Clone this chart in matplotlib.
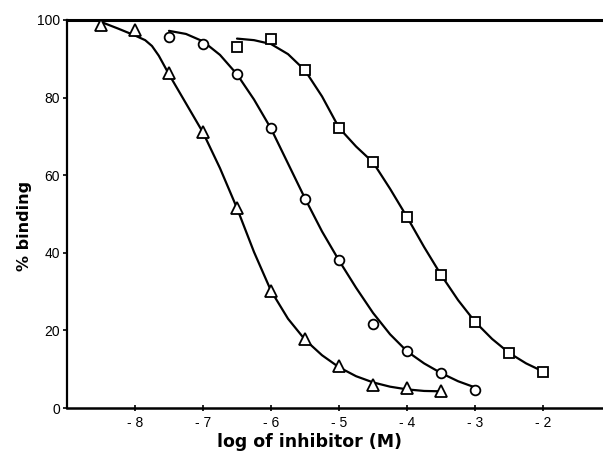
import matplotlib
matplotlib.use("Agg")
import matplotlib.pyplot as plt

plt.rcParams["font.family"] = "Liberation Sans"

# measured points (log M, % binding)
tri_x = [-8.5, -8.0, -7.5, -7.0, -6.5, -6.0, -5.5, -5.0, -4.5, -4.0, -3.5]
tri_y = [98.7, 97.5, 86.3, 71.1, 51.6, 30.2, 17.9, 10.7, 5.9, 5.2, 4.5]

circ_x = [-7.5, -7.0, -6.5, -6.0, -5.5, -5.0, -4.5, -4.0, -3.5, -3.0]
circ_y = [95.6, 93.7, 86.2, 72.2, 53.9, 38.1, 21.6, 14.6, 9.0, 4.6]

sq_x = [-6.5, -6.0, -5.5, -5.0, -4.5, -4.0, -3.5, -3.0, -2.5, -2.0]
sq_y = [93.0, 95.1, 87.1, 72.2, 63.3, 49.2, 34.3, 22.2, 14.2, 9.3]

# fitted curves
tri_fit_x = [-8.5, -8.25, -8.0, -7.85, -7.75, -7.65, -7.5, -7.25, -7.0, -6.75, -6.5,
             -6.25, -6.0, -5.75, -5.5, -5.25, -5.0, -4.75, -4.5, -4.25, -4.0, -3.75, -3.5]
tri_fit_y = [99.5, 97.8, 96.0, 94.8, 93.3, 90.8, 86.0, 78.5, 71.0, 61.8, 51.5,
             40.2, 30.2, 23.0, 17.6, 13.6, 10.5, 8.2, 6.6, 5.5, 4.8, 4.4, 4.3]

circ_fit_x = [-7.5, -7.25, -7.0, -6.75, -6.5, -6.25, -6.0, -5.75, -5.5, -5.25, -5.0,
              -4.75, -4.5, -4.25, -4.0, -3.75, -3.5, -3.25, -3.0]
circ_fit_y = [97.2, 96.4, 94.5, 91.0, 86.0, 79.5, 72.0, 63.0, 54.0, 45.5, 38.0,
              31.0, 24.5, 19.0, 14.6, 11.5, 9.0, 6.9, 5.3]

sq_fit_x = [-6.5, -6.25, -6.0, -5.75, -5.5, -5.25, -5.0, -4.75, -4.5, -4.25, -4.0,
            -3.75, -3.5, -3.25, -3.0, -2.75, -2.5, -2.25, -2.0]
sq_fit_y = [95.2, 94.8, 93.8, 91.2, 87.0, 80.3, 72.2, 67.4, 63.3, 56.5, 49.2,
            41.5, 34.3, 27.8, 22.2, 17.8, 14.2, 11.5, 9.4]

xticks = [-8, -7, -6, -5, -4, -3, -2]
xtick_labels = ["- 8", "- 7", "- 6", "- 5", "- 4", "- 3", "- 2"]
yticks = [0, 20, 40, 60, 80, 100]

fig = plt.figure(figsize=(6.03, 4.51), dpi=100)
ax = fig.add_axes([0.111, 0.0953, 0.889, 0.8604])

for fx, fy in [(tri_fit_x, tri_fit_y), (circ_fit_x, circ_fit_y), (sq_fit_x, sq_fit_y)]:
    ax.plot(fx, fy, color="black", lw=1.6, solid_capstyle="round", zorder=2)

mk = dict(linestyle="none", markerfacecolor="white", markeredgecolor="black",
          markeredgewidth=1.3, zorder=3)
ax.plot(tri_x, tri_y, marker="^", ms=8, **mk)
ax.plot(circ_x, circ_y, marker="o", ms=7, **mk)
ax.plot(sq_x, sq_y, marker="s", ms=7, **mk)

ax.set_xlim(-9.0, -1.12)
ax.set_ylim(0, 100)
ax.set_xticks(xticks)
ax.set_xticklabels(xtick_labels)
ax.set_yticks(yticks)

ax.spines["right"].set_visible(False)
ax.spines["top"].set_linewidth(2.2)
ax.spines["bottom"].set_linewidth(1.8)
ax.spines["left"].set_linewidth(1.6)
ax.tick_params(axis="x", direction="inout", length=4, width=1.2, pad=4, labelsize=10)
ax.tick_params(axis="y", direction="out", length=3, width=1.2, pad=2, labelsize=10)

fig.text(0.514, 0.008, "log of inhibitor (M)", ha="center", va="baseline",
         fontsize=12.5, fontweight="bold", family="DejaVu Sans")
fig.text(0.041, 0.50, "% binding", ha="center", va="center", rotation=90,
         fontsize=11.5, fontweight="bold", family="DejaVu Sans")

fig.savefig("out.png", dpi=100)
